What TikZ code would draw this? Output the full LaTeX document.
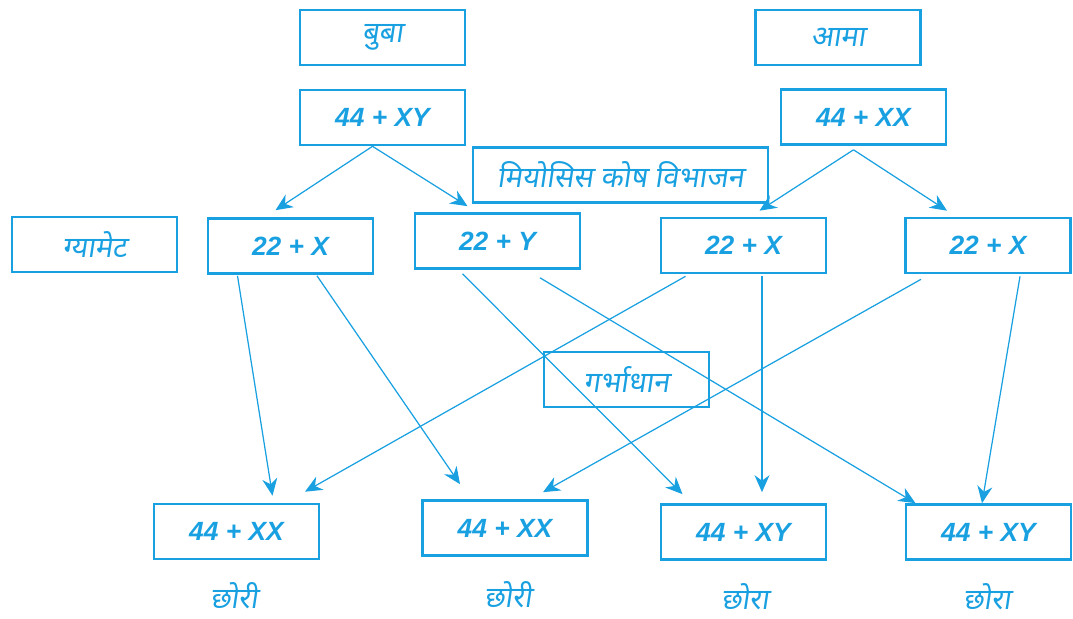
\documentclass[tikz,border=0pt]{standalone}
\usepackage{fontspec}
\setmainfont{Liberation Sans}
\newfontfamily\devfont[Script=Devanagari,FakeSlant=0.15]{Noto Sans}
\usetikzlibrary{arrows.meta,calc}
\definecolor{cyanline}{RGB}{25,160,225}
\begin{document}
\begin{tikzpicture}[x=0.2mm, y=-0.2mm, >={Stealth[length=3.4mm,width=3mm,inset=1.1mm]},
  box/.style = {draw=cyanline, line width=1.5pt, minimum width=33mm, minimum height=11mm, inner sep=0pt, text=cyanline, font=\fontsize{15}{18}\selectfont\bfseries\itshape},
  dev/.style = {text=cyanline, font=\devfont\fontsize{16.5}{19}\selectfont},
  conn/.style = {draw=cyanline, line width=0.7pt, ->}]
\useasboundingbox (0,0) rectangle (1073,619);

\node[box,dev] (buba) at (382.5,37.5) {बुबा};
\node[box] (fa) at (382.5,117.5) {44 + XY};
\node[box,dev] (ama) at (838,37.5) {आमा};
\node[box] (mo) at (863.5,117) {44 + XX};
\node[box,dev,minimum width=59mm] (meio) at (620.5,175) {मियोसिस कोष विभाजन};
\node[box,dev] (gamete) at (94.5,244.5) {ग्यामेट};
\node[box] (g1) at (290.5,246) {22 + X};
\node[box] (g2) at (497.5,241) {22 + Y};
\node[box] (g3) at (743.5,245.5) {22 + X};
\node[box] (g4) at (988,245.5) {22 + X};
\node[box,dev] (garbh) at (626.5,379.5) {गर्भाधान};
\node[box] (c1) at (236.5,531.5) {44 + XX};
\node[box] (c2) at (505,528) {44 + XX};
\node[box] (c3) at (743.5,532) {44 + XY};
\node[box] (c4) at (988.5,532) {44 + XY};

\node[dev] (d1) at (234,596) {छोरी};
\node[dev] (d2) at (508,595) {छोरी};
\node[dev] (d3) at (745,597) {छोरा};
\node[dev] (d4) at (987,597) {छोरा};

\draw[conn] ($(fa.south)+(-10,0)$) -- ($(g1.north)+(-15,-7)$);
\draw[conn] ($(fa.south)+(-10,0)$) -- ($(g2.north)+(-30,-6)$);
\draw[conn] ($(mo.south)+(-10,4)$) -- ($(g3.north)+(16,-6)$);
\draw[conn] ($(mo.south)+(-10,4)$) -- ($(g4.north)+(-41,-6)$);
\draw[conn] ($(g1.south)+(-53,1)$) -- ($(c1.north)+(36,-7)$);
\draw[conn] ($(g1.south)+(26.5,1)$) -- ($(c2.north)+(-45,-15)$);
\draw[conn] ($(g2.south)+(-35,4)$) -- ($(c3.north)+(-61,-9)$);
\draw[conn] ($(g2.south)+(42.5,8)$) -- ($(c4.north)+(-73,0)$);
\draw[conn] ($(g3.south)+(-58,2)$) -- ($(c1.north)+(68.5,-11)$);
\draw[conn] ($(g3.south)+(18.5,2)$) -- ($(c3.north)+(18.5,-11)$);
\draw[conn] ($(g4.south)+(-67,5)$) -- ($(c2.north)+(38,-7)$);
\draw[conn] ($(g4.south)+(32,2)$) -- ($(c4.north)+(-6.5,0)$);
\end{tikzpicture}
\end{document}
